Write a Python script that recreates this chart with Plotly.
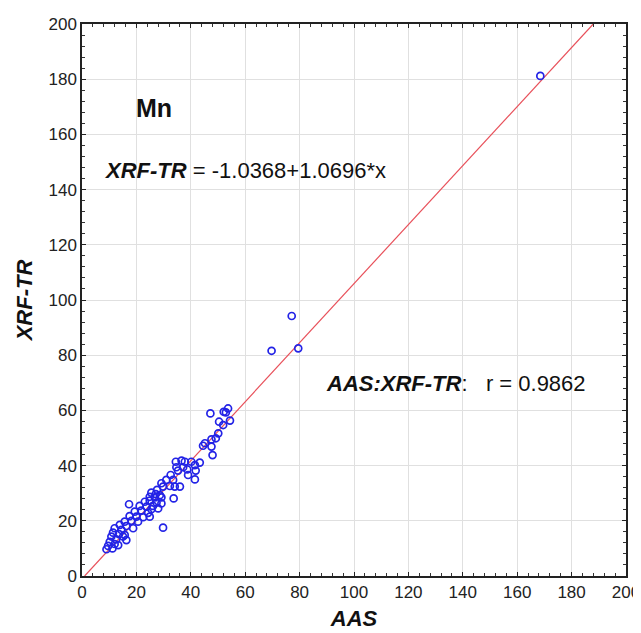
import plotly.graph_objects as go

# AAS vs XRF-TR values for Mn
aas = [47.2, 52.1, 53.7, 52.9, 54.4, 50.4, 51.9, 50.1, 49.2, 47.6, 45.2, 44.5, 47.6, 48.0,
       34.5, 36.6, 37.8, 40.2, 43.3, 41.5, 34.7, 37.2, 35.3, 38.7, 41.8, 39.0, 41.5, 32.6,
       31.0, 33.5, 32.3, 34.1, 36.0, 29.2, 29.8, 27.6, 25.5, 27.1, 28.6, 24.9, 26.8, 29.2,
       23.1, 24.9, 27.4, 29.2, 21.2, 23.7, 26.1, 28.0, 17.3, 33.7, 19.4, 21.8, 24.3, 25.5,
       17.5, 20.0, 22.5, 24.9, 15.7, 18.2, 20.6, 13.9, 16.3, 18.8, 29.8, 12.0, 14.5, 11.4,
       13.6, 15.7, 10.8, 12.6, 16.3, 10.2, 12.0, 9.6, 9.0, 11.2, 13.3, 15.1,
       77.1, 69.7, 79.5, 168.5]
xrf = [58.9, 59.5, 60.7, 59.3, 56.3, 55.9, 54.7, 51.7, 49.9, 49.5, 48.1, 47.2, 46.9, 43.8,
       41.4, 41.8, 41.4, 41.4, 41.1, 40.2, 39.4, 39.4, 38.2, 38.6, 38.2, 36.6, 35.0, 36.6,
       34.8, 34.8, 32.6, 32.4, 32.4, 33.6, 32.4, 31.2, 30.2, 29.7, 29.3, 28.7, 28.5, 28.5,
       26.9, 27.3, 26.6, 26.3, 25.4, 25.1, 25.4, 24.5, 26.0, 28.1, 23.3, 23.7, 22.9, 24.2,
       21.7, 21.5, 21.3, 21.5, 19.7, 20.0, 19.7, 18.5, 18.1, 17.3, 17.5, 17.3, 16.7, 15.7,
       15.2, 14.9, 14.3, 13.3, 13.0, 12.4, 11.6, 10.9, 9.7, 10.0, 11.2, 14.3,
       94.2, 81.6, 82.5, 181.2]

intercept = -1.0368
slope = 1.0696
line_x = [(0 - intercept) / slope, (200 - intercept) / slope]
line_y = [intercept + slope * v for v in line_x]

tick_vals = [0, 20, 40, 60, 80, 100, 120, 140, 160, 180, 200]
tick_text = [str(v) for v in tick_vals]

tick_font = dict(family="Liberation Sans Narrow, Arial Narrow, Liberation Sans, Arial", size=17, color="#222222")
title_font = dict(family="Liberation Sans, Arial", size=22, color="#111111")

fig = go.Figure()
fig.add_trace(go.Scatter(x=line_x, y=line_y, mode="lines",
                         line=dict(color="#e8505a", width=1.2), hoverinfo="skip", showlegend=False))
fig.add_trace(go.Scatter(x=aas, y=xrf, mode="markers",
                         marker=dict(symbol="circle-open", size=7, color="#2323e6",
                                     line=dict(width=1.7, color="#2323e6")),
                         showlegend=False))

axis_common = dict(range=[0, 200], tickvals=tick_vals, ticktext=tick_text,
                   showgrid=True, gridcolor="#e0e0e0", gridwidth=1,
                   showline=True, linecolor="#222222", linewidth=1.5, mirror="ticks",
                   ticks="inside", ticklen=4, tickcolor="#222222", tickwidth=1,
                   minor=dict(dtick=4, ticks="inside", ticklen=3, tickcolor="#333333", showgrid=False),
                   zeroline=False, tickfont=tick_font, automargin=False,
                   ticklabeloverflow="allow")

fig.update_xaxes(**axis_common, title=dict(text="<b><i>AAS</i></b>", font=title_font, standoff=9))
fig.update_yaxes(**axis_common, title=dict(text="<b><i>XRF-TR</i></b>", font=title_font, standoff=10))

ann_font = dict(family="Liberation Sans, Arial", size=22, color="#111111")
fig.add_annotation(x=19.0, y=169.6, xref="x", yref="y", text="<b>Mn</b>", showarrow=False,
                   xanchor="left", yanchor="middle", font=dict(family="Liberation Sans, Arial", size=25, color="#111111"))
fig.add_annotation(x=7.3, y=147.1, xref="x", yref="y",
                   text="<b><i>XRF-TR</i></b> = -1.0368+1.0696*x", showarrow=False,
                   xanchor="left", yanchor="middle", font=ann_font)
fig.add_annotation(x=89.0, y=69.9, xref="x", yref="y",
                   text="<b><i>AAS:XRF-TR</i></b>:   r = 0.9862", showarrow=False,
                   xanchor="left", yanchor="middle", font=ann_font)

# page body adds an 8px margin; size the figure so the plot area lands where the reference has it
fig.update_layout(width=633, height=625, margin=dict(l=74, r=15, t=16, b=57),
                  plot_bgcolor="white", paper_bgcolor="white")

fig.write_html("out.html")
